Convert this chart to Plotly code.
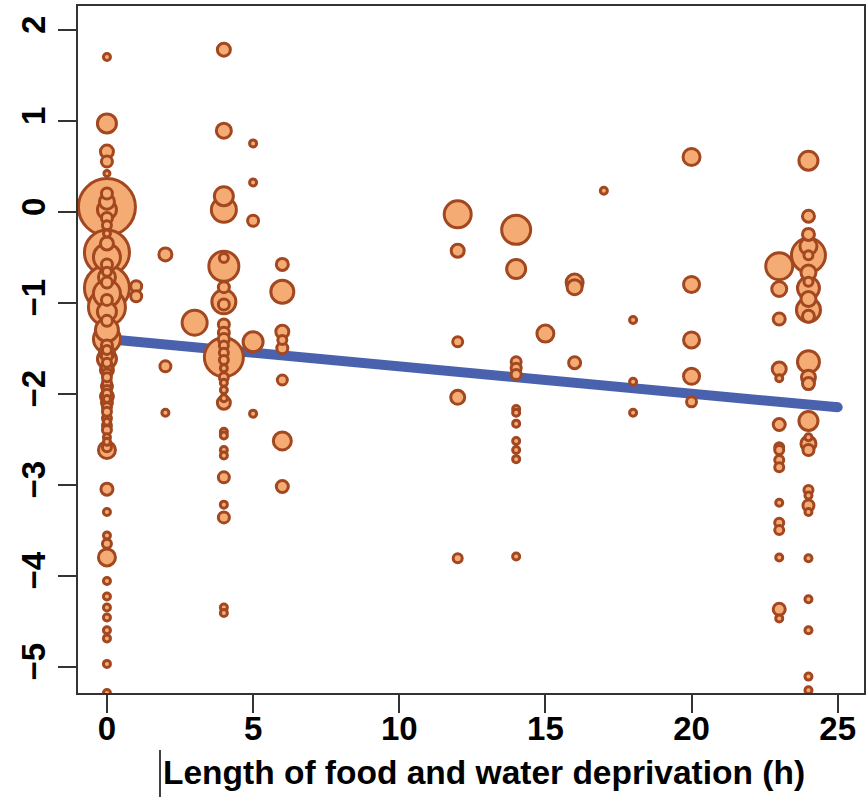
import plotly.graph_objects as go

# ---- data ----
# hours of deprivation for each study point
hours = (
    [0] * 67 + [1] * 2 + [2] * 3 + [3] * 1 + [4] * 31 + [5] * 5 + [6] * 8 +
    [12] * 5 + [14] * 12 + [15] * 1 + [16] * 3 + [17] * 1 + [18] * 3 +
    [20] * 5 + [23] * 16 + [24] * 28
)

effect = [
    # 0 h
    1.70, 0.97, 0.66, 0.55, 0.42, 0.05, 0.20, 0.11, 0.02, -0.07,
    -0.15, -0.24, -0.45, -0.35, -0.50, -0.58, -0.66, -0.84, -0.72, -0.78,
    -0.90, -0.97, -1.05, -1.10, -1.20, -1.30, -1.40, -1.47, -1.55, -1.62,
    -1.70, -1.78, -1.88, -1.96, -2.03, -2.10, -2.15, -2.27, -2.35, -2.48,
    -2.59, -2.62, -3.05, -3.30, -3.56, -3.65, -3.80, -4.06, -4.23, -4.35,
    -4.46, -4.60, -4.69, -4.97, -5.29,
    -1.52, -1.58, -1.66, -1.74, -1.82, -1.92, -2.00, -2.06, -2.20, -2.31,
    -2.40, -2.53,
    # 1 h
    -0.82, -0.93,
    # 2 h
    -0.47, -1.70, -2.21,
    # 3 h
    -1.22,
    # 4 h
    1.78, 0.89, 0.17, 0.02, -0.60, -0.51, -0.83, -0.99, -1.02, -1.24,
    -1.33, -1.40, -1.47, -1.55, -1.60, -1.63, -1.72, -1.82, -1.88, -1.96,
    -2.05, -2.10, -2.42, -2.46, -2.62, -2.68, -2.92, -3.22, -3.36, -4.35,
    -4.41,
    # 5 h
    0.75, 0.32, -0.10, -1.43, -2.22,
    # 6 h
    -0.58, -0.88, -1.32, -1.41, -1.50, -1.85, -2.52, -3.02,
    # 12 h
    -0.03, -0.43, -1.43, -2.04, -3.81,
    # 14 h
    -0.20, -0.63, -1.65, -1.72, -1.79, -2.17, -2.21, -2.33, -2.52, -2.62,
    -2.72, -3.79,
    # 15 h
    -1.34,
    # 16 h
    -0.78, -0.83, -1.66,
    # 17 h
    0.23,
    # 18 h
    -1.19, -1.87, -2.21,
    # 20 h
    0.60, -0.80, -1.41, -1.81, -2.09,
    # 23 h
    -0.60, -0.85, -1.18, -1.73, -1.83, -2.34, -2.59, -2.62, -2.73, -2.81,
    -3.20, -3.42, -3.50, -3.80, -4.37, -4.47,
    # 24 h
    0.56, -0.05, -0.25, -0.48, -0.38, -0.48, -0.67, -0.77, -0.84, -0.96,
    -1.08, -1.15, -1.65, -1.82, -1.89, -2.30, -2.48, -2.55, -2.62, -3.06,
    -3.12, -3.23, -3.30, -3.81, -4.26, -4.60, -5.11, -5.26,
]

# study weight (bubble diameter)
weight = [
    # 0 h
    10, 22, 16, 14, 9, 60, 14, 18, 22, 14,
    12, 10, 48, 16, 30, 14, 12, 48, 20, 14,
    30, 14, 40, 22, 14, 26, 30, 14, 18, 22,
    14, 12, 12, 12, 16, 14, 12, 12, 12, 10,
    12, 20, 15, 10, 10, 12, 20, 10, 10, 10,
    10, 10, 10, 10, 10,
    12, 14, 12, 16, 12, 14, 12, 10, 12, 10,
    12, 10,
    # 1 h
    14, 14,
    # 2 h
    16, 14, 10,
    # 3 h
    28,
    # 4 h
    16, 18, 22, 28, 33, 12, 14, 27, 14, 14,
    14, 14, 12, 12, 42, 12, 10, 12, 10, 10,
    10, 16, 10, 10, 10, 10, 14, 10, 14, 10,
    10,
    # 5 h
    10, 10, 14, 23, 10,
    # 6 h
    15, 26, 16, 12, 14, 13, 21, 15,
    # 12 h
    30, 16, 13, 17, 12,
    # 14 h
    32, 22, 13, 13, 13, 10, 10, 10, 10, 10,
    10, 10,
    # 15 h
    20,
    # 16 h
    20, 18, 15,
    # 17 h
    10,
    # 18 h
    10, 10, 10,
    # 20 h
    20, 19, 19, 19, 13,
    # 23 h
    30, 18, 15, 17, 10, 15, 12, 12, 12, 12,
    10, 12, 12, 10, 15, 10,
    # 24 h
    22, 15, 15, 37, 20, 12, 18, 12, 25, 18,
    27, 15, 25, 17, 15, 22, 10, 18, 14, 12,
    10, 14, 10, 10, 10, 10, 10, 10,
]

assert len(hours) == len(effect) == len(weight), (len(hours), len(effect), len(weight))

# meta-regression line
fit_hours = [0, 25]
fit_effect = [-1.40, -2.15]

x_ticks = [0, 5, 10, 15, 20, 25]
y_ticks = [-5, -4, -3, -2, -1, 0, 1, 2]
x_title = "Length of food and water deprivation (h)"

# ---- figure ----
W, H = 868, 797
ML, MR, MT, MB = 78, 4, 6, 104
PW, PH = W - ML - MR, H - MT - MB
OUTLINE = 3.0
LINE_BLUE = "#4A62AE"

order = sorted(range(len(effect)), key=lambda i: -weight[i])
xs = [hours[i] for i in order]
ys = [effect[i] for i in order]
ss = [max(weight[i] - OUTLINE, 4) for i in order]

fig = go.Figure()
fig.add_trace(go.Scatter(
    x=fit_hours, y=fit_effect, mode="lines+markers",
    line=dict(color=LINE_BLUE, width=10),
    marker=dict(size=10, color=LINE_BLUE, line=dict(width=0)),
    hoverinfo="skip",
))
fig.add_trace(go.Scatter(
    x=xs, y=ys, mode="markers",
    marker=dict(size=ss, color="#F5AB74",
                line=dict(color="#A2471F", width=OUTLINE), opacity=1),
))

tickfont = dict(family="Liberation Sans, Arial, sans-serif", size=33,
                color="black", weight="bold")
axis_common = dict(
    showgrid=False, zeroline=False, showline=True, mirror=True,
    linecolor="#333333", linewidth=1.5, automargin=False,
    ticks="outside", ticklen=18, tickwidth=1.5, tickcolor="#333333",
    tickfont=tickfont,
)

fig.update_layout(
    width=W, height=H,
    margin=dict(l=ML, r=MR, t=MT, b=MB, pad=0, autoexpand=False),
    paper_bgcolor="white", plot_bgcolor="white",
    showlegend=False,
    xaxis=dict(range=[-0.99, 25.9], tickvals=x_ticks,
               ticklabelstandoff=-12, **axis_common),
    yaxis=dict(range=[-5.29, 2.26], tickvals=y_ticks, tickangle=-90,
               **axis_common),
)

def px_x(p):
    return (p - ML) / PW

def px_y(p):
    return (H - MB - p) / PH

fig.add_annotation(
    text=x_title, xref="paper", yref="paper",
    x=px_x(484), y=px_y(772), xanchor="center", yanchor="middle",
    showarrow=False,
    font=dict(family="Liberation Sans, Arial, sans-serif", size=33.5,
              color="black", weight="bold"),
)
fig.add_shape(
    type="line", xref="paper", yref="paper",
    x0=px_x(160), x1=px_x(160), y0=px_y(750), y1=px_y(797),
    line=dict(color="black", width=1.5),
)

fig.write_html(
    "out.html",
    config={"displayModeBar": False},
    post_script="document.body.style.margin='0px';"
                "document.body.style.overflow='hidden';",
)
